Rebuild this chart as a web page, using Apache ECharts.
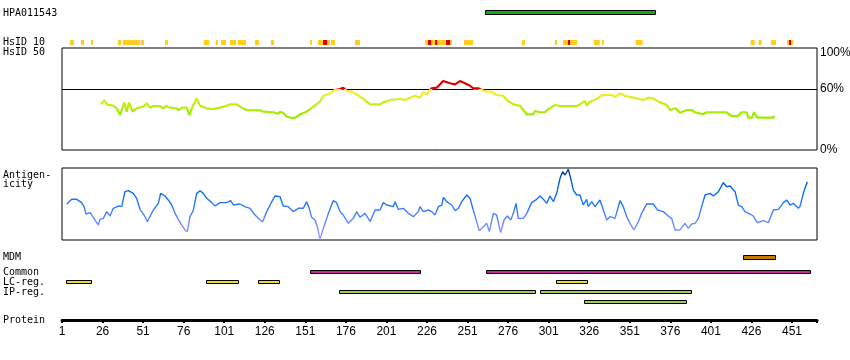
<!DOCTYPE html>
<html><head><meta charset="utf-8">
<script src="https://cdn.jsdelivr.net/npm/echarts@6/dist/echarts.min.js"></script>
<style>html,body{margin:0;padding:0;background:#fff}#c{width:850px;height:360px}</style>
</head><body><div id="c"></div>
<script>
// ---------------- data ----------------
const proteinEnd = 466.4;
const tickLabels = [1, 26, 51, 76, 101, 126, 151, 176, 201, 226, 251, 276, 301, 326, 351, 376, 401, 426, 451];
const antibodyName = 'HPA011543';
const antibodyRegions = [[261.8, 367]];
const hsid10Yellow = [[5.9,8.4],[12.7,14.6],[18.9,20.1],[35.5,37.4],[38.6,49.1],[49.7,51.5],[64.5,66.3],[88.5,91.6],[95.9,97.2],[99,102.1],[104.6,108.3],[109.5,114.4],[120,122.4],[129.8,131.7],[153.9,155.1],[158.8,166.2],[166.8,169.3],[181.6,184.7],[224.8,241.4],[248.8,254.4],[284.6,286.4],[304.9,306.1],[309.8,318.5],[328.8,332.5],[333.8,335],[354.6,358.9],[425.5,428],[430.4,432.3],[438,441.1],[447.9,451.6]];
const hsid10Red = [[161.9,164.4],[226.6,228.5],[231,232.2],[237.7,240.2],[312.9,314.2],[449.1,450.4]];
const hsid50 = [[25.2,44.8],[27.1,49],[28.6,44.8],[32.6,43.4],[34.7,40.9],[36.8,34.3],[39.4,46.7],[40.9,37.6],[42.3,46.7],[44.6,37.6],[47,40.9],[51.1,42.5],[53.2,45.8],[55.2,41.5],[57.3,43.1],[61.4,43.1],[63.4,40.9],[65.5,43.1],[67.6,41.5],[71.7,40.9],[72.7,38.9],[74.8,41.5],[77.9,41.5],[79.5,34.3],[81,40.9],[84,50.7],[86.1,43.4],[90.2,40.9],[94.3,40.2],[98.4,41.5],[102.5,43.1],[104.6,44.8],[108.7,44.8],[111.8,41.5],[114.9,39.2],[123.1,38.9],[125.1,37.6],[131.3,37],[134.3,35.5],[135.4,37.6],[137.4,36.3],[139.5,32.6],[143.6,31.1],[145.7,32.6],[147.7,35],[151.8,37.6],[155.9,42.5],[160,47.4],[162.1,53.2],[165.2,54.6],[169.3,58.8],[172.4,59.8],[174.4,61.1],[176.5,57.8],[179.6,57.2],[182.7,54.6],[185.7,51.3],[188.8,47.4],[190.9,44.8],[197,44.8],[199.1,46.7],[203.2,49],[209.4,50],[212.4,49],[215.5,51.3],[218.6,53.2],[221.7,51.3],[223.7,57.2],[225.8,54.6],[228.9,60.5],[232,61.1],[236,67.6],[240.2,65.4],[243.3,64.4],[246.3,67.6],[249.4,65.4],[252.5,63],[254.5,60.5],[257.6,60.5],[259.7,58.8],[262.8,57.2],[265.9,57.2],[268.9,53.9],[273,53.2],[275.1,49],[279.2,44.8],[283.3,43.4],[287.5,35],[291.5,35],[292.6,38.2],[295.7,37],[298.7,37],[300.8,40.2],[304.9,44.1],[308,43.1],[318.3,43.1],[320.3,44.8],[323.4,48],[324.4,43.4],[326.5,47.4],[330.6,50],[333.7,53.9],[339.8,53.9],[341.9,52],[345,55.6],[348,53],[353.2,51.3],[359.3,49],[362.4,51.3],[365.3,50.5],[369.6,46.7],[373.8,44.1],[375.8,39.2],[378.9,41],[382,36.6],[386.1,39.2],[389.2,39.2],[391.2,37],[396.3,35],[398.4,37],[410.7,37],[413.8,33.3],[417.7,33.3],[419.9,37],[423,37],[424,31.7],[426.3,31.7],[427.6,37],[429.6,31.7],[439.5,31.7],[440.1,33.6]];
const antigenicity = [[4.0,50],[7.0,56.5],[10.1,56.5],[13.1,51.9],[14.6,46.3],[15.8,36.1],[18.3,38],[20.3,31.5],[22.0,25.5],[23.4,20.8],[24.4,28.7],[26.5,30.1],[28.6,39.4],[29.5,41.7],[30.6,33.3],[32.6,44],[35.7,47.2],[37.8,46.3],[39.8,67.1],[41.9,68.5],[44.9,64.8],[47.0,57.9],[49.1,42.6],[52.2,32.4],[53.6,25.5],[55.2,32.4],[57.3,41.7],[60.4,50.9],[61.8,64.8],[64.5,61.1],[66.5,55.6],[68.6,48.6],[70.7,37],[72.7,28.7],[74.8,20.8],[76.8,13.9],[78.2,11.6],[79.9,32.4],[81.9,40.7],[84.0,64.8],[86.1,68.5],[88.1,64.8],[90.2,57.9],[93.3,51.9],[95.3,47.2],[98.4,51.9],[102.5,51.9],[105.0,54.6],[106.6,48.6],[110.7,50],[113.8,46.3],[116.9,44],[120.0,34.7],[123.1,27.8],[124.7,25.5],[127.2,39.4],[130.3,53.2],[132.3,61.1],[135.4,60.2],[137.4,47.2],[140.5,46.3],[143.6,39.4],[146.7,44],[149.7,44],[151.8,53.2],[153.4,44],[154.9,31.5],[156.9,27.8],[158.4,18.5],[160.0,1],[162.1,16.2],[165.2,37],[168.2,54.6],[170.3,51.9],[172.4,39.4],[174.4,34.7],[177.5,23.1],[180.6,30.1],[182.7,39.4],[184.7,31.5],[187.8,37],[189.8,30.1],[190.9,25.5],[194.0,41.7],[197.0,41.7],[199.1,51.9],[201.2,48.6],[205.2,46.3],[206.3,53.2],[208.3,42.6],[211.4,44],[214.5,37],[217.6,32.4],[220.6,39.4],[221.7,46.3],[223.7,39.4],[226.8,41.7],[228.9,39.4],[230.9,34.7],[233.0,46.3],[235.1,48.6],[236.1,59.3],[238.1,53.2],[241.2,48.6],[243.3,40.7],[245.3,44],[247.4,53.2],[250.5,62.5],[252.5,57.9],[254.5,41.7],[256.6,25.5],[258.2,12.9],[260.7,18.5],[262.8,23.1],[264.4,11.6],[266.9,37],[268.9,34.7],[271.4,10.2],[273.5,27.8],[275.5,33.3],[277.6,27.8],[279.2,37],[280.9,50.9],[282.3,30.1],[285.4,30.1],[287.5,37],[290.5,51.9],[293.6,56.5],[295.7,61.1],[297.7,56.5],[299.8,50.9],[301.8,61.1],[303.9,53.2],[305.9,64.8],[308.0,85.6],[309.6,94.9],[311.1,90.3],[313.1,98.1],[314.6,85.6],[316.2,69.4],[318.3,62.5],[320.3,62.5],[322.3,48.6],[324.4,56.5],[325.4,46.3],[327.5,53.2],[329.6,46.3],[332.6,55.6],[334.7,41.7],[336.8,27.8],[338.8,32.4],[341.9,30.1],[345.0,54.6],[347.0,46.3],[349.1,32.4],[351.1,23.1],[353.6,13.9],[356.3,25.5],[358.3,37],[361.4,50],[365.5,50],[368.0,41.7],[371.7,39.4],[374.7,33.3],[376.8,30.1],[378.9,13.9],[381.9,13.9],[385.0,23.1],[387.1,16.2],[389.2,22.2],[391.2,23.1],[393.3,30.1],[395.3,46.3],[397.4,62.5],[400.5,64.8],[402.5,61.1],[405.6,67.1],[408.7,79.6],[410.7,74],[412.8,75],[415.9,67.1],[417.9,48.6],[420.0,46.3],[422.0,39.4],[425.1,36.1],[427.1,33.3],[429.6,24],[433.3,26.8],[436.4,24],[439.5,41.7],[442.6,42.6],[445.7,51.9],[447.7,55.6],[449.8,48.6],[451.8,50.9],[454.9,44],[456.0,47.2],[458.0,64.8],[460.4,81]];
const mdmRegions = [[421, 441]];
const commonRegions = [[154.1, 222.1], [262.1, 462.6]];
const lcRegions = [[3.6, 19.3], [90, 110], [122, 135.2], [305.7, 325]];
const ipRegions = [[171.9, 293, 0], [295.8, 389.2, 0], [323, 386.1, 1]];
const percentTicks = [0, 60, 100];

// ---------------- layout ----------------
const FONT = '10px "DejaVu Sans Mono", monospace';
const L = 62, W = 755;
const gridDefs = [
  {top: 10, height: 5},    // 0 antibody
  {top: 40, height: 5},    // 1 HsID 10
  {top: 48, height: 102, show: true, borderColor: '#000', borderWidth: 1}, // 2 HsID 50
  {top: 168, height: 72, show: true, borderColor: '#000', borderWidth: 1}, // 3 antigenicity
  {top: 255, height: 5},   // 4 MDM
  {top: 270, height: 4},   // 5 Common
  {top: 280, height: 4},   // 6 LC
  {top: 290, height: 14},  // 7 IP
  {top: 300, height: 20}   // 8 protein axis
];
const grid = gridDefs.map(g => Object.assign({left: L, width: W, outerBoundsMode: 'none', containLabel: false}, g));
const xAxis = grid.map((g, i) => ({
  gridIndex: i, type: 'value', min: 1, max: proteinEnd, show: i === 8,
  axisLine: {show: true, lineStyle: {color: '#000', width: 3}},
  axisTick: {show: true, length: 3, lineStyle: {color: '#000', width: 2},
             customValues: tickLabels.concat([proteinEnd])},
  axisLabel: {show: true, customValues: tickLabels, margin: 6, font: FONT, color: '#000'},
  splitLine: {show: false}
}));
const yAxis = grid.map((g, i) => {
  if (i === 2) return {gridIndex: i, type: 'value', min: 0, max: 100, position: 'right',
    axisLine: {show: false}, axisTick: {show: false}, splitLine: {show: false},
    axisLabel: {show: true, customValues: percentTicks, margin: 3, color: '#000', font: FONT,
      formatter: v => v === 100 ? '{t|100%}' : v + '%',
      rich: {t: {font: FONT, color: '#000', padding: [9, 0, 0, 0]}}}};
  if (i === 3) return {gridIndex: i, type: 'value', min: 0, max: 100, show: false};
  return {gridIndex: i, type: 'value', min: 0, max: 1, show: false};
});

function regionSeries(gi, data, fill, stroke, pitch) {
  return {
    type: 'custom', xAxisIndex: gi, yAxisIndex: gi, data: data, silent: true, clip: false,
    encode: {x: [0, 1]},
    renderItem(params, api) {
      const cs = params.coordSys;
      const a = api.coord([api.value(0), 0]);
      const b = api.coord([api.value(1), 0]);
      if (!stroke) {
        return {type: 'rect', shape: {x: a[0], y: cs.y, width: b[0] - a[0], height: cs.height}, style: {fill: fill}};
      }
      const row = api.value(2) || 0;
      const h = pitch ? 4 : cs.height;
      const x1 = Math.round(a[0]), x2 = Math.round(b[0]);
      return {type: 'rect', shape: {x: x1 + 0.5, y: cs.y + row * (pitch || 0) + 0.5, width: x2 - x1 - 1, height: h - 1},
              style: {fill: fill, stroke: stroke, lineWidth: 1}};
    }
  };
}

const series = [
  regionSeries(0, antibodyRegions, '#1aa512', '#000'),
  regionSeries(1, hsid10Yellow, '#ffcc22'),
  regionSeries(1, hsid10Red, '#dd0000'),
  {type: 'line', xAxisIndex: 2, yAxisIndex: 2, data: hsid50, showSymbol: false, silent: true,
   lineStyle: {width: 2.2}, z: 3,
   markLine: {silent: true, symbol: 'none', label: {show: false},
              lineStyle: {color: '#000', width: 1, type: 'solid'}, data: [{yAxis: 60}], z: 2}},
  {type: 'line', xAxisIndex: 3, yAxisIndex: 3, data: antigenicity, showSymbol: false, silent: true,
   lineStyle: {width: 1.4}},
  regionSeries(4, mdmRegions, '#c97800', '#000'),
  regionSeries(5, commonRegions, '#cc2aa0', '#000'),
  regionSeries(6, lcRegions, '#eedd2a', '#000'),
  regionSeries(7, ipRegions, '#a0cc55', '#000', 10)
];

const labels = [
  ['HPA011543', 13], ['HsID 10', 42.5], ['HsID 50', 52.5], ['Antigen-', 175], ['icity', 184],
  ['MDM', 257], ['Common', 272.5], ['LC-reg.', 282.5], ['IP-reg.', 292.5], ['Protein', 320]
];

const chart = echarts.init(document.getElementById('c'), null, {renderer: 'canvas'});
chart.setOption({
  animation: false,
  backgroundColor: '#fff',
  grid: grid, xAxis: xAxis, yAxis: yAxis, series: series,
  visualMap: [
    {type: 'piecewise', show: false, seriesIndex: 3, dimension: 1,
     pieces: [
       {lt: 36, color: '#99ee00'}, {gte: 36, lt: 40, color: '#a6ee00'}, {gte: 40, lt: 44, color: '#b8ee11'},
       {gte: 44, lt: 48, color: '#c8ee11'}, {gte: 48, lt: 52, color: '#d8ee22'}, {gte: 52, lt: 56, color: '#eaee22'},
       {gte: 56, lt: 60, color: '#f8ee33'}, {gte: 60, color: '#dd0000'}]},
    {type: 'continuous', show: false, seriesIndex: 4, dimension: 1, min: 0, max: 100,
     inRange: {color: ['#aa99ff', '#6688ff', '#2277ff', '#0066ee', '#003399']}}
  ],
  graphic: labels.map(l => ({type: 'text', x: 3, y: l[1], silent: true,
    style: {text: l[0], font: FONT, fill: '#000', verticalAlign: 'middle'}}))
});
</script>
</body></html>
